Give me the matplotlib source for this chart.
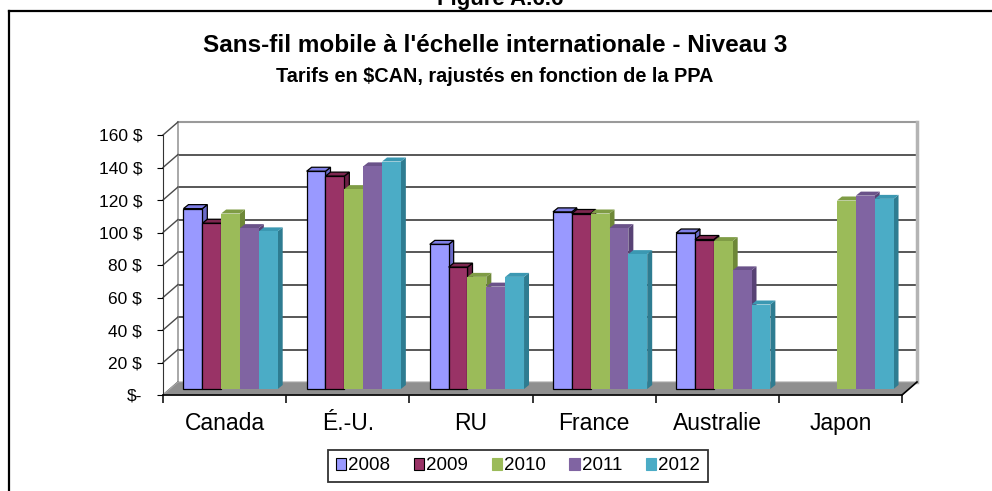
import numpy as np
import matplotlib
matplotlib.use("Agg")
import matplotlib.pyplot as plt
from matplotlib.patches import Polygon, Patch
from matplotlib.lines import Line2D

plt.rcParams['font.family'] = ['Liberation Sans', 'DejaVu Sans']

pays = ['Canada', 'É.-U.', 'RU', 'France', 'Australie', 'Japon']
annees = ['2008', '2009', '2010', '2011', '2012']
tarifs_2008 = [111, 134, 89, 109, 96, np.nan]
tarifs_2009 = [102, 131, 75, 108, 92, np.nan]
tarifs_2010 = [108, 123, 69, 108, 91, 116]
tarifs_2011 = [99, 137, 63, 99, 73, 119]
tarifs_2012 = [97, 140, 69, 83, 52, 117]
series = [tarifs_2008, tarifs_2009, tarifs_2010, tarifs_2011, tarifs_2012]

y_ticks = [0, 20, 40, 60, 80, 100, 120, 140, 160]
y_labels = ['$-', '20 $', '40 $', '60 $', '80 $', '100 $', '120 $', '140 $', '160 $']

# couleurs: face, dessus, cote, bordure
couleurs_face = ['#9999FF', '#993366', '#9BBB59', '#8064A2', '#4BACC6']
couleurs_dessus = ['#7F7FE6', '#7E2750', '#7F9C45', '#6A5289', '#3B98B2']
couleurs_cote = ['#6A6AC8', '#6B1F44', '#6E8838', '#584275', '#2E7C91']
bordures = ['black', 'black', 'none', 'none', 'none']

W, H = 992, 491
fig = plt.figure(figsize=(W / 100, H / 100), dpi=100)

# plan avant du graphique (pixels)
x0, x1, y0, y1 = 163, 902, 395, 135
ax = fig.add_axes([x0 / W, 1 - y0 / H, (x1 - x0) / W, (y0 - y1) / H])
ax.set_xlim(-0.5, 5.5)
ax.set_ylim(0, 160)

px_x = (x1 - x0) / 6.0
px_y = (y0 - y1) / 160.0
# profondeur du fond, decalage des barres, profondeur des barres
DX, DY = 15 / px_x, 13 / px_y
BX, BY = 6 / px_x, 6 / px_y
dx, dy = 5 / px_x, 4 / px_y

xl, xr = -0.5, 5.5

# mur du fond
for v in y_ticks[1:-1]:
    ax.plot([xl + DX, xr + DX], [v + DY, v + DY], color='#2a2a2a', lw=1.1, clip_on=False, zorder=1)
ax.plot([xl + DX, xr + DX], [160 + DY, 160 + DY], color='#9a9a9a', lw=1.5, clip_on=False, zorder=1)
ax.plot([xl + DX, xl + DX], [DY, 160 + DY], color='#9a9a9a', lw=1.2, clip_on=False, zorder=1)
ax.plot([xr + DX, xr + DX], [DY, 160 + DY], color='#b4b4b4', lw=2.5, clip_on=False, zorder=1)

# mur de gauche
for v in y_ticks:
    ax.plot([xl, xl + DX], [v, v + DY], color='#4a4a4a', lw=1.0, clip_on=False, zorder=1)

# plancher
ax.add_patch(Polygon([(xl, 0), (xr, 0), (xr + DX, DY), (xl + DX, DY)], closed=True,
                     facecolor='#8f8f8f', edgecolor='#a8a8a8', lw=0.8, clip_on=False, zorder=2))
ax.plot([xr, xr + DX], [0, DY], color='black', lw=1.2, clip_on=False, zorder=2)

# barres
largeur = 0.153
x = np.arange(len(pays))
for j, vals in enumerate(series):
    pos = x + (j - 2) * largeur + BX
    for i in range(len(pays)):
        v = vals[i]
        if np.isnan(v):
            continue
        g, d = pos[i] - largeur / 2, pos[i] + largeur / 2
        lw = 0.9 if bordures[j] != 'none' else 0
        ax.add_patch(Polygon([(d, BY), (d, v + BY), (d + dx, v + BY + dy), (d + dx, BY + dy)],
                             closed=True, facecolor=couleurs_cote[j], edgecolor=bordures[j],
                             lw=lw, clip_on=False, zorder=3))
        ax.add_patch(Polygon([(g, v + BY), (d, v + BY), (d + dx, v + BY + dy), (g + dx, v + BY + dy)],
                             closed=True, facecolor=couleurs_dessus[j], edgecolor=bordures[j],
                             lw=lw, clip_on=False, zorder=3))
    ax.bar(pos, vals, largeur, bottom=BY, color=couleurs_face[j], edgecolor=bordures[j],
           linewidth=0.9 if bordures[j] != 'none' else 0, clip_on=False, zorder=3)

# axes
for s in ['top', 'right']:
    ax.spines[s].set_visible(False)
ax.spines['left'].set_color('#333333')
ax.spines['bottom'].set_color('black')
ax.spines['bottom'].set_linewidth(1.2)
ax.set_facecolor('none')
ax.set_yticks(y_ticks)
ax.set_yticklabels(y_labels, fontsize=12.5)
ax.tick_params(axis='y', direction='out', length=4, pad=11)
ax.set_xticks(x)
ax.set_xticklabels(pays, fontsize=16.5)
ax.set_xticks(np.arange(-0.5, 6.0, 1.0), minor=True)
ax.tick_params(axis='x', which='major', length=0, pad=12)
ax.tick_params(axis='x', which='minor', direction='out', length=5.5, width=1.1)

# titres
fig.text(500 / W, 1 - 5 / H, 'Figure A.6.6', ha='center', va='baseline', fontsize=16, fontweight='bold')
fig.text(495 / W, 1 - 46 / H, "Sans-fil mobile à l'échelle internationale - Niveau 3",
         ha='center', va='center', fontsize=17.5, fontweight='bold')
fig.text(495 / W, 1 - 76 / H, 'Tarifs en $CAN, rajustés en fonction de la PPA',
         ha='center', va='center', fontsize=14.3, fontweight='bold')

# cadre
fig.add_artist(Line2D([9 / W, 1], [1 - 11 / H, 1 - 11 / H], color='black', lw=1.6, transform=fig.transFigure))
fig.add_artist(Line2D([9 / W, 9 / W], [0, 1 - 11 / H], color='black', lw=1.6, transform=fig.transFigure))

# legende
poignees = [Patch(facecolor=couleurs_face[j], edgecolor=bordures[j] if bordures[j] != 'none' else couleurs_face[j],
                  lw=0.8) for j in range(5)]
leg = fig.legend(poignees, annees, loc='center', bbox_to_anchor=(518 / W, 1 - 466 / H), ncol=5,
                 fontsize=13.5, frameon=True, fancybox=False, edgecolor='black',
                 handlelength=0.55, handleheight=0.55, handletextpad=0.12, columnspacing=1.25,
                 borderpad=0.4, borderaxespad=0)
leg.get_frame().set_linewidth(1.3)

fig.savefig('out.png', dpi=100)
